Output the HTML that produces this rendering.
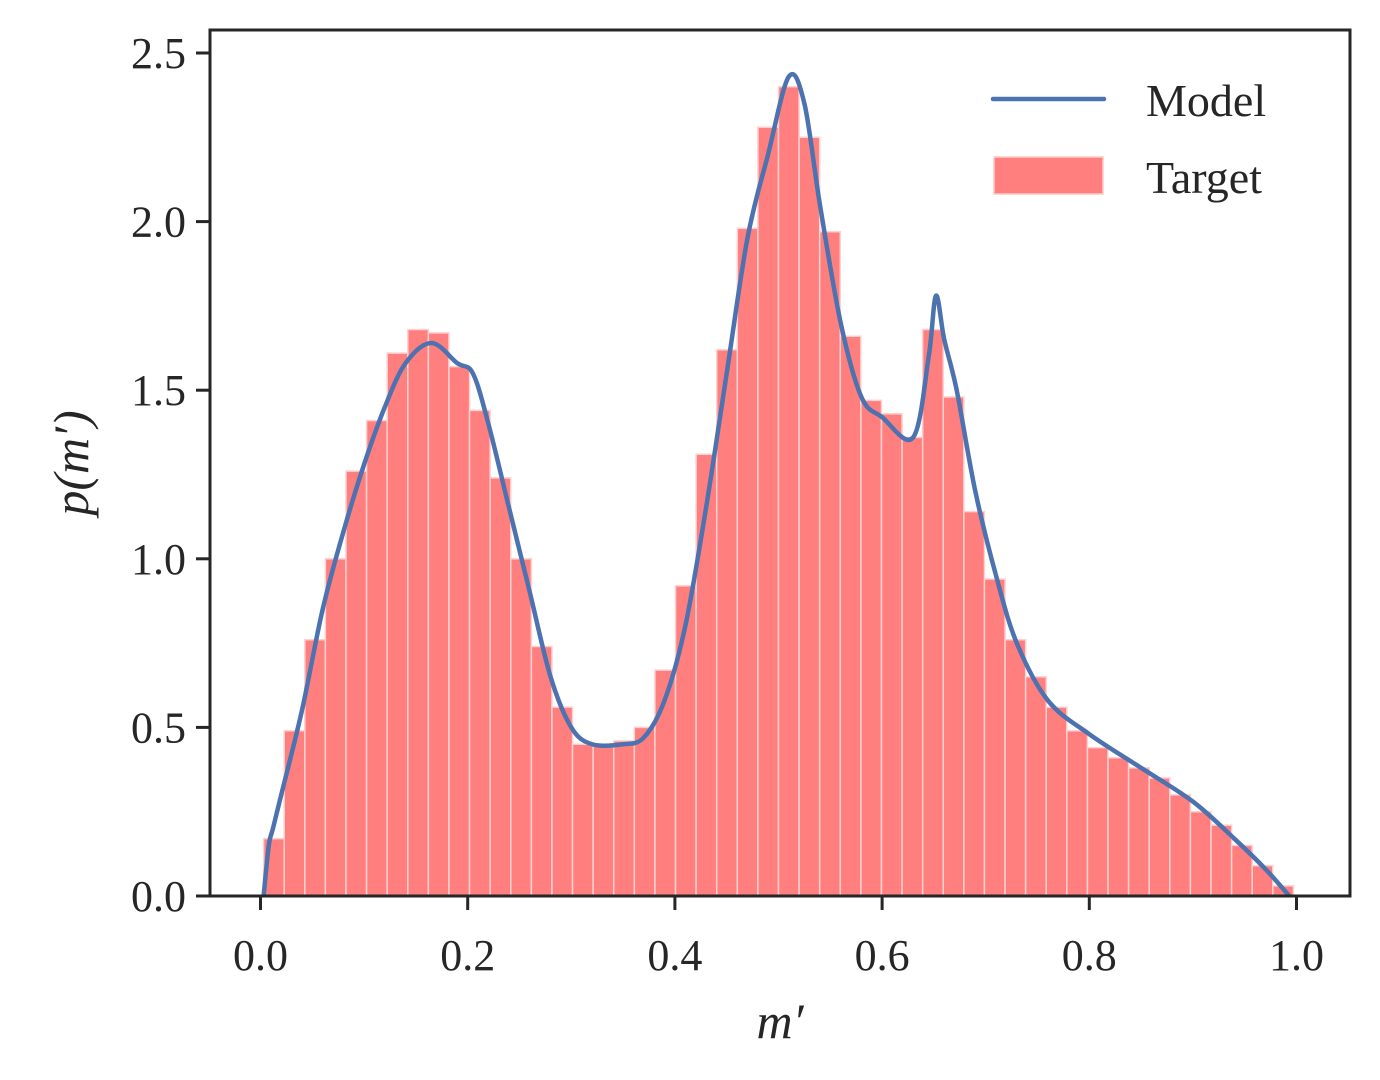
<!DOCTYPE html>
<html><head><meta charset="utf-8"><style>
body{margin:0;background:#fff;}
svg{display:block;}
text{font-family:"Liberation Serif",serif;fill:#262626;}
</style></head><body>
<svg id="chart" width="1380" height="1080" viewBox="0 0 1380 1080" xmlns="http://www.w3.org/2000/svg">
<g id="bars"></g>
<path id="model" fill="none" stroke="#4c72b0" stroke-width="4.5" stroke-linejoin="round"/>
<rect x="210" y="30" width="1140" height="866" fill="none" stroke="#262626" stroke-width="3"/>
<g id="ticks"></g>
<text x="780" y="1038" font-size="50" font-style="italic" text-anchor="middle">m′</text>
<text transform="translate(88,463) rotate(-90)" font-size="50" font-style="italic" text-anchor="middle">p(m′)</text>
<g>
<line x1="993" y1="99" x2="1104" y2="99" stroke="#4c72b0" stroke-width="4.5" stroke-linecap="round"/>
<text x="1146" y="116" font-size="46">Model</text>
<rect x="994" y="157" width="109" height="37" fill="#ff7f7f" stroke="#ffc8c8" stroke-width="1.5"/>
<text x="1146" y="193" font-size="46">Target</text>
</g>
</svg>
<script>
const binStart = 0.003;
const binWidth = 0.01988;
const binHeights = [0.17,0.49,0.76,1.0,1.26,1.41,1.61,1.68,1.67,1.57,1.44,1.24,1.0,0.74,0.56,0.45,0.45,0.46,0.50,0.67,0.92,1.31,1.62,1.98,2.28,2.40,2.25,1.97,1.66,1.47,1.43,1.36,1.68,1.48,1.14,0.94,0.76,0.65,0.56,0.49,0.44,0.41,0.38,0.35,0.30,0.25,0.21,0.15,0.09,0.03];
const modelX = [0.003,0.008,0.012,0.02,0.04,0.06,0.08,0.10,0.12,0.14,0.165,0.19,0.205,0.22,0.24,0.26,0.28,0.30,0.32,0.35,0.37,0.39,0.41,0.43,0.45,0.47,0.49,0.51,0.525,0.54,0.56,0.58,0.60,0.63,0.645,0.652,0.66,0.672,0.69,0.71,0.73,0.76,0.80,0.85,0.90,0.94,0.97,0.993];
const modelY = [0,0.15,0.2,0.3,0.55,0.85,1.08,1.28,1.45,1.58,1.64,1.58,1.55,1.4,1.15,0.9,0.65,0.5,0.45,0.45,0.47,0.58,0.8,1.15,1.55,1.95,2.2,2.43,2.35,2.05,1.7,1.48,1.42,1.36,1.6,1.78,1.65,1.5,1.2,0.95,0.75,0.58,0.48,0.38,0.28,0.17,0.08,0.0];
const xTicks = [0,0.2,0.4,0.6,0.8,1.0];
const xTickLabels = ["0.0","0.2","0.4","0.6","0.8","1.0"];
const yTicks = [0,0.5,1.0,1.5,2.0,2.5];
const yTickLabels = ["0.0","0.5","1.0","1.5","2.0","2.5"];
const NS="http://www.w3.org/2000/svg";
function sx(v){return 260.5+v*1036;}
function sy(v){return 896-v*337.2;}
const bars=document.getElementById('bars');
binHeights.forEach((h,i)=>{
  const r=document.createElementNS(NS,'rect');
  const x0=sx(binStart+i*binWidth), x1=sx(binStart+(i+1)*binWidth);
  r.setAttribute('x',x0);r.setAttribute('width',x1-x0);
  r.setAttribute('y',sy(h));r.setAttribute('height',sy(0)-sy(h));
  r.setAttribute('fill','#ff7f7f');r.setAttribute('stroke','#ffd0d0');r.setAttribute('stroke-width','1.5');
  
  
  bars.appendChild(r);
});
const pts=modelX.map((x,i)=>[sx(x),sy(modelY[i])]);
let d='M'+pts[0][0]+','+pts[0][1];
for(let i=0;i<pts.length-1;i++){
  const p0=pts[Math.max(0,i-1)],p1=pts[i],p2=pts[i+1],p3=pts[Math.min(pts.length-1,i+2)];
  const c1=[p1[0]+(p2[0]-p0[0])/6,p1[1]+(p2[1]-p0[1])/6];
  const c2=[p2[0]-(p3[0]-p1[0])/6,p2[1]-(p3[1]-p1[1])/6];
  d+=' C'+c1[0]+','+c1[1]+' '+c2[0]+','+c2[1]+' '+p2[0]+','+p2[1];
}
document.getElementById('model').setAttribute('d',d);
const tg=document.getElementById('ticks');
xTicks.forEach((v,i)=>{
  const l=document.createElementNS(NS,'line');
  l.setAttribute('x1',sx(v));l.setAttribute('x2',sx(v));l.setAttribute('y1',896);l.setAttribute('y2',910);
  l.setAttribute('stroke','#262626');l.setAttribute('stroke-width','3');
  
  
  tg.appendChild(l);
  const t=document.createElementNS(NS,'text');
  t.setAttribute('x',sx(v));t.setAttribute('y',970);t.setAttribute('font-size','44');t.setAttribute('text-anchor','middle');
  t.textContent=xTickLabels[i];
  
  
  tg.appendChild(t);
});
yTicks.forEach((v,i)=>{
  const l=document.createElementNS(NS,'line');
  l.setAttribute('x1',196);l.setAttribute('x2',210);l.setAttribute('y1',sy(v));l.setAttribute('y2',sy(v));
  l.setAttribute('stroke','#262626');l.setAttribute('stroke-width','3');
  
  
  tg.appendChild(l);
  const t=document.createElementNS(NS,'text');
  t.setAttribute('x',186);t.setAttribute('y',sy(v)+15);t.setAttribute('font-size','44');t.setAttribute('text-anchor','end');
  t.textContent=yTickLabels[i];
  
  
  tg.appendChild(t);
});
</script>
</body></html>
